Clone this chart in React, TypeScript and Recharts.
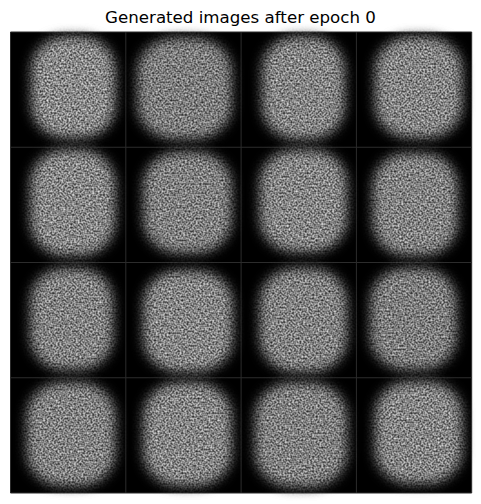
import { CartesianGrid, ReferenceArea, Scatter, ScatterChart, XAxis, YAxis } from "recharts";

// 4x4 grid of generated samples, row-major from the top left
const tileRow = [0, 0, 0, 0, 1, 1, 1, 1, 2, 2, 2, 2, 3, 3, 3, 3];
const tileCol = [0, 1, 2, 3, 0, 1, 2, 3, 0, 1, 2, 3, 0, 1, 2, 3];

// blob extents in grid units (half-brightness edge)
const blobLeft = [0.18, 1.1, 2.18, 3.16, 0.17, 1.15, 2.16, 3.14, 0.17, 1.15, 2.16, 3.12, 0.14, 1.15, 2.12, 3.16];
const blobRight = [0.91, 1.92, 2.9, 3.92, 0.91, 1.92, 2.92, 3.88, 0.89, 1.93, 2.92, 3.87, 0.91, 1.92, 2.92, 3.92];
const blobTop = [0.04, 0.05, 0.04, 0.04, 1.02, 1.04, 1.02, 1.05, 2.05, 2.07, 2.05, 2.05, 3.04, 3.04, 3.04, 3.03];
const blobBottom = [0.92, 0.93, 0.93, 0.92, 1.94, 1.92, 1.91, 1.94, 2.93, 2.95, 2.95, 2.93, 3.94, 3.94, 3.95, 3.92];

// mean pixel level inside each blob (0..1)
const blobLevel = [0.6, 0.55, 0.58, 0.58, 0.59, 0.56, 0.58, 0.57, 0.57, 0.58, 0.57, 0.55, 0.57, 0.58, 0.56, 0.58];

const gridTicks = [0, 1, 2, 3, 4];

const tiles = tileRow.map((r, i) => ({
  row: r,
  col: tileCol[i],
  cx: tileCol[i] + 0.5,
  cy: r + 0.5,
  x1: blobLeft[i],
  x2: blobRight[i],
  y1: blobTop[i],
  y2: blobBottom[i],
  level: blobLevel[i],
}));

const toGray = (v: number) => {
  const c = Math.round(v * 255);
  return `rgb(${c},${c},${c})`;
};

const Blob = (level: number) => (props: any) => {
  const { x, y, width, height } = props;
  return (
    <rect
      x={x}
      y={y}
      width={width}
      height={height}
      rx={width * 0.4}
      ry={height * 0.33}
      fill={toGray(level)}
      filter="url(#grain)"
    />
  );
};

const NoMark = () => <g />;

export default function App() {
  return (
    <div style={{ position: "absolute", left: 0, top: 0, width: 481, height: 504, background: "#fff" }}>
      <svg width={0} height={0} style={{ position: "absolute" }}>
        <defs>
          <filter id="grain" x="-30%" y="-30%" width="160%" height="160%" colorInterpolationFilters="sRGB">
            <feGaussianBlur in="SourceGraphic" stdDeviation="6" result="soft" />
            <feTurbulence type="fractalNoise" baseFrequency="0.55" numOctaves="1" seed="7" result="noise" />
            <feColorMatrix
              in="noise"
              type="matrix"
              values="1.15 0 0 0 -0.05  1.15 0 0 0 -0.05  1.15 0 0 0 -0.05  0 0 0 0 1"
              result="gray"
            />
            <feComposite in="gray" in2="soft" operator="arithmetic" k1="1.7" k2="0" k3="0" k4="0" />
          </filter>
        </defs>
      </svg>
      <div
        style={{
          position: "absolute",
          left: 0,
          top: 7.7,
          width: 481,
          textAlign: "center",
          fontFamily: "DejaVu Sans",
          fontSize: 16.67,
          lineHeight: "20px",
          color: "#000",
        }}
      >
        Generated images after epoch 0
      </div>
      <ScatterChart width={481} height={504} margin={{ top: 32, right: 9.3, bottom: 11, left: 10.5 }}>
        <CartesianGrid fill="#000" fillOpacity={1} stroke="#2c2c2c" strokeWidth={1} />
        <XAxis type="number" dataKey="cx" domain={[0, 4]} ticks={gridTicks} allowDataOverflow hide />
        <YAxis type="number" dataKey="cy" domain={[0, 4]} ticks={gridTicks} reversed allowDataOverflow hide />
        <Scatter data={tiles} shape={NoMark} isAnimationActive={false} />
        {tiles.map((t, i) => (
          <ReferenceArea
            key={`blob-${i}`}
            x1={t.x1}
            x2={t.x2}
            y1={t.y1}
            y2={t.y2}
            shape={Blob(t.level)}
            ifOverflow="hidden"
          />
        ))}
      </ScatterChart>
    </div>
  );
}
